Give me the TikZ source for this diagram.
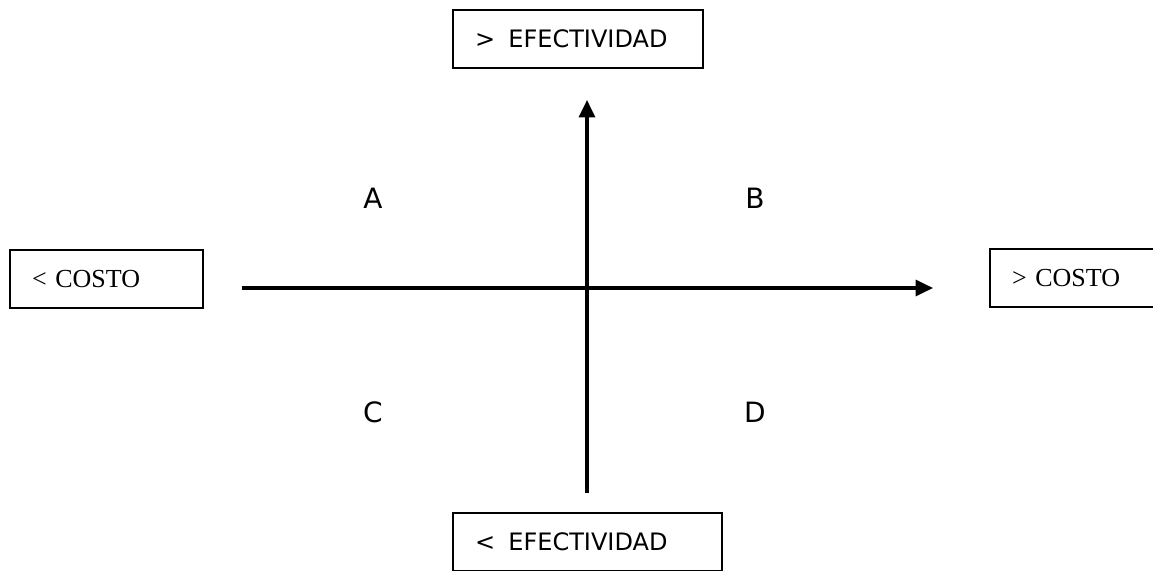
\documentclass[tikz,border=0pt]{standalone}
\usepackage{fontspec}
\setmainfont{DejaVu Sans}
\newfontfamily\costofont{Liberation Serif}
\usetikzlibrary{positioning,arrows.meta}

\begin{document}
\begin{tikzpicture}[x=0.75pt,y=-0.75pt,
      axisbox/.style={rectangle,draw=black,line width=1.5pt,minimum height=43.5pt,
        inner xsep=16.5pt,align=left,font=\fontsize{18}{21}\selectfont},
      costbox/.style={axisbox,font=\costofont\fontsize{19.5}{22}\selectfont},
      quad/.style={font=\fontsize{21}{25}\selectfont},
      arr/.style={line width=2.4pt,-{Triangle[length=13pt,width=12pt]}}
      ]
      \useasboundingbox (0,0) rectangle (1153,571);
      \clip (0,0) rectangle (1153,571);
      \node (maxef) [axisbox,text width=154.5pt] at (578,39) {>\hspace{10pt}EFECTIVIDAD};
      \node (minef) [axisbox,text width=168.75pt] at (587.5,542) {<\hspace{10pt}EFECTIVIDAD};
      \node (mincost) [costbox,text width=111.75pt] at (106.5,279) {<\ COSTO};
      \node (maxcost) [costbox,text width=111.75pt] at (1086.5,278) {>\ COSTO};
      \coordinate (west) at (242,288);
      \coordinate (east) at (933,288);
      \coordinate (south) at (587,493);
      \coordinate (north) at (587,100);
      \draw[arr] (west) -- (east);
      \draw[arr] (south) -- (north);
      \node (qa) [quad] at (373,198) {A};
      \node (qb) [quad] at (755,198) {B};
      \node (qc) [quad] at (373,412) {C};
      \node (qd) [quad] at (755,412) {D};
    \end{tikzpicture}
\end{document}
